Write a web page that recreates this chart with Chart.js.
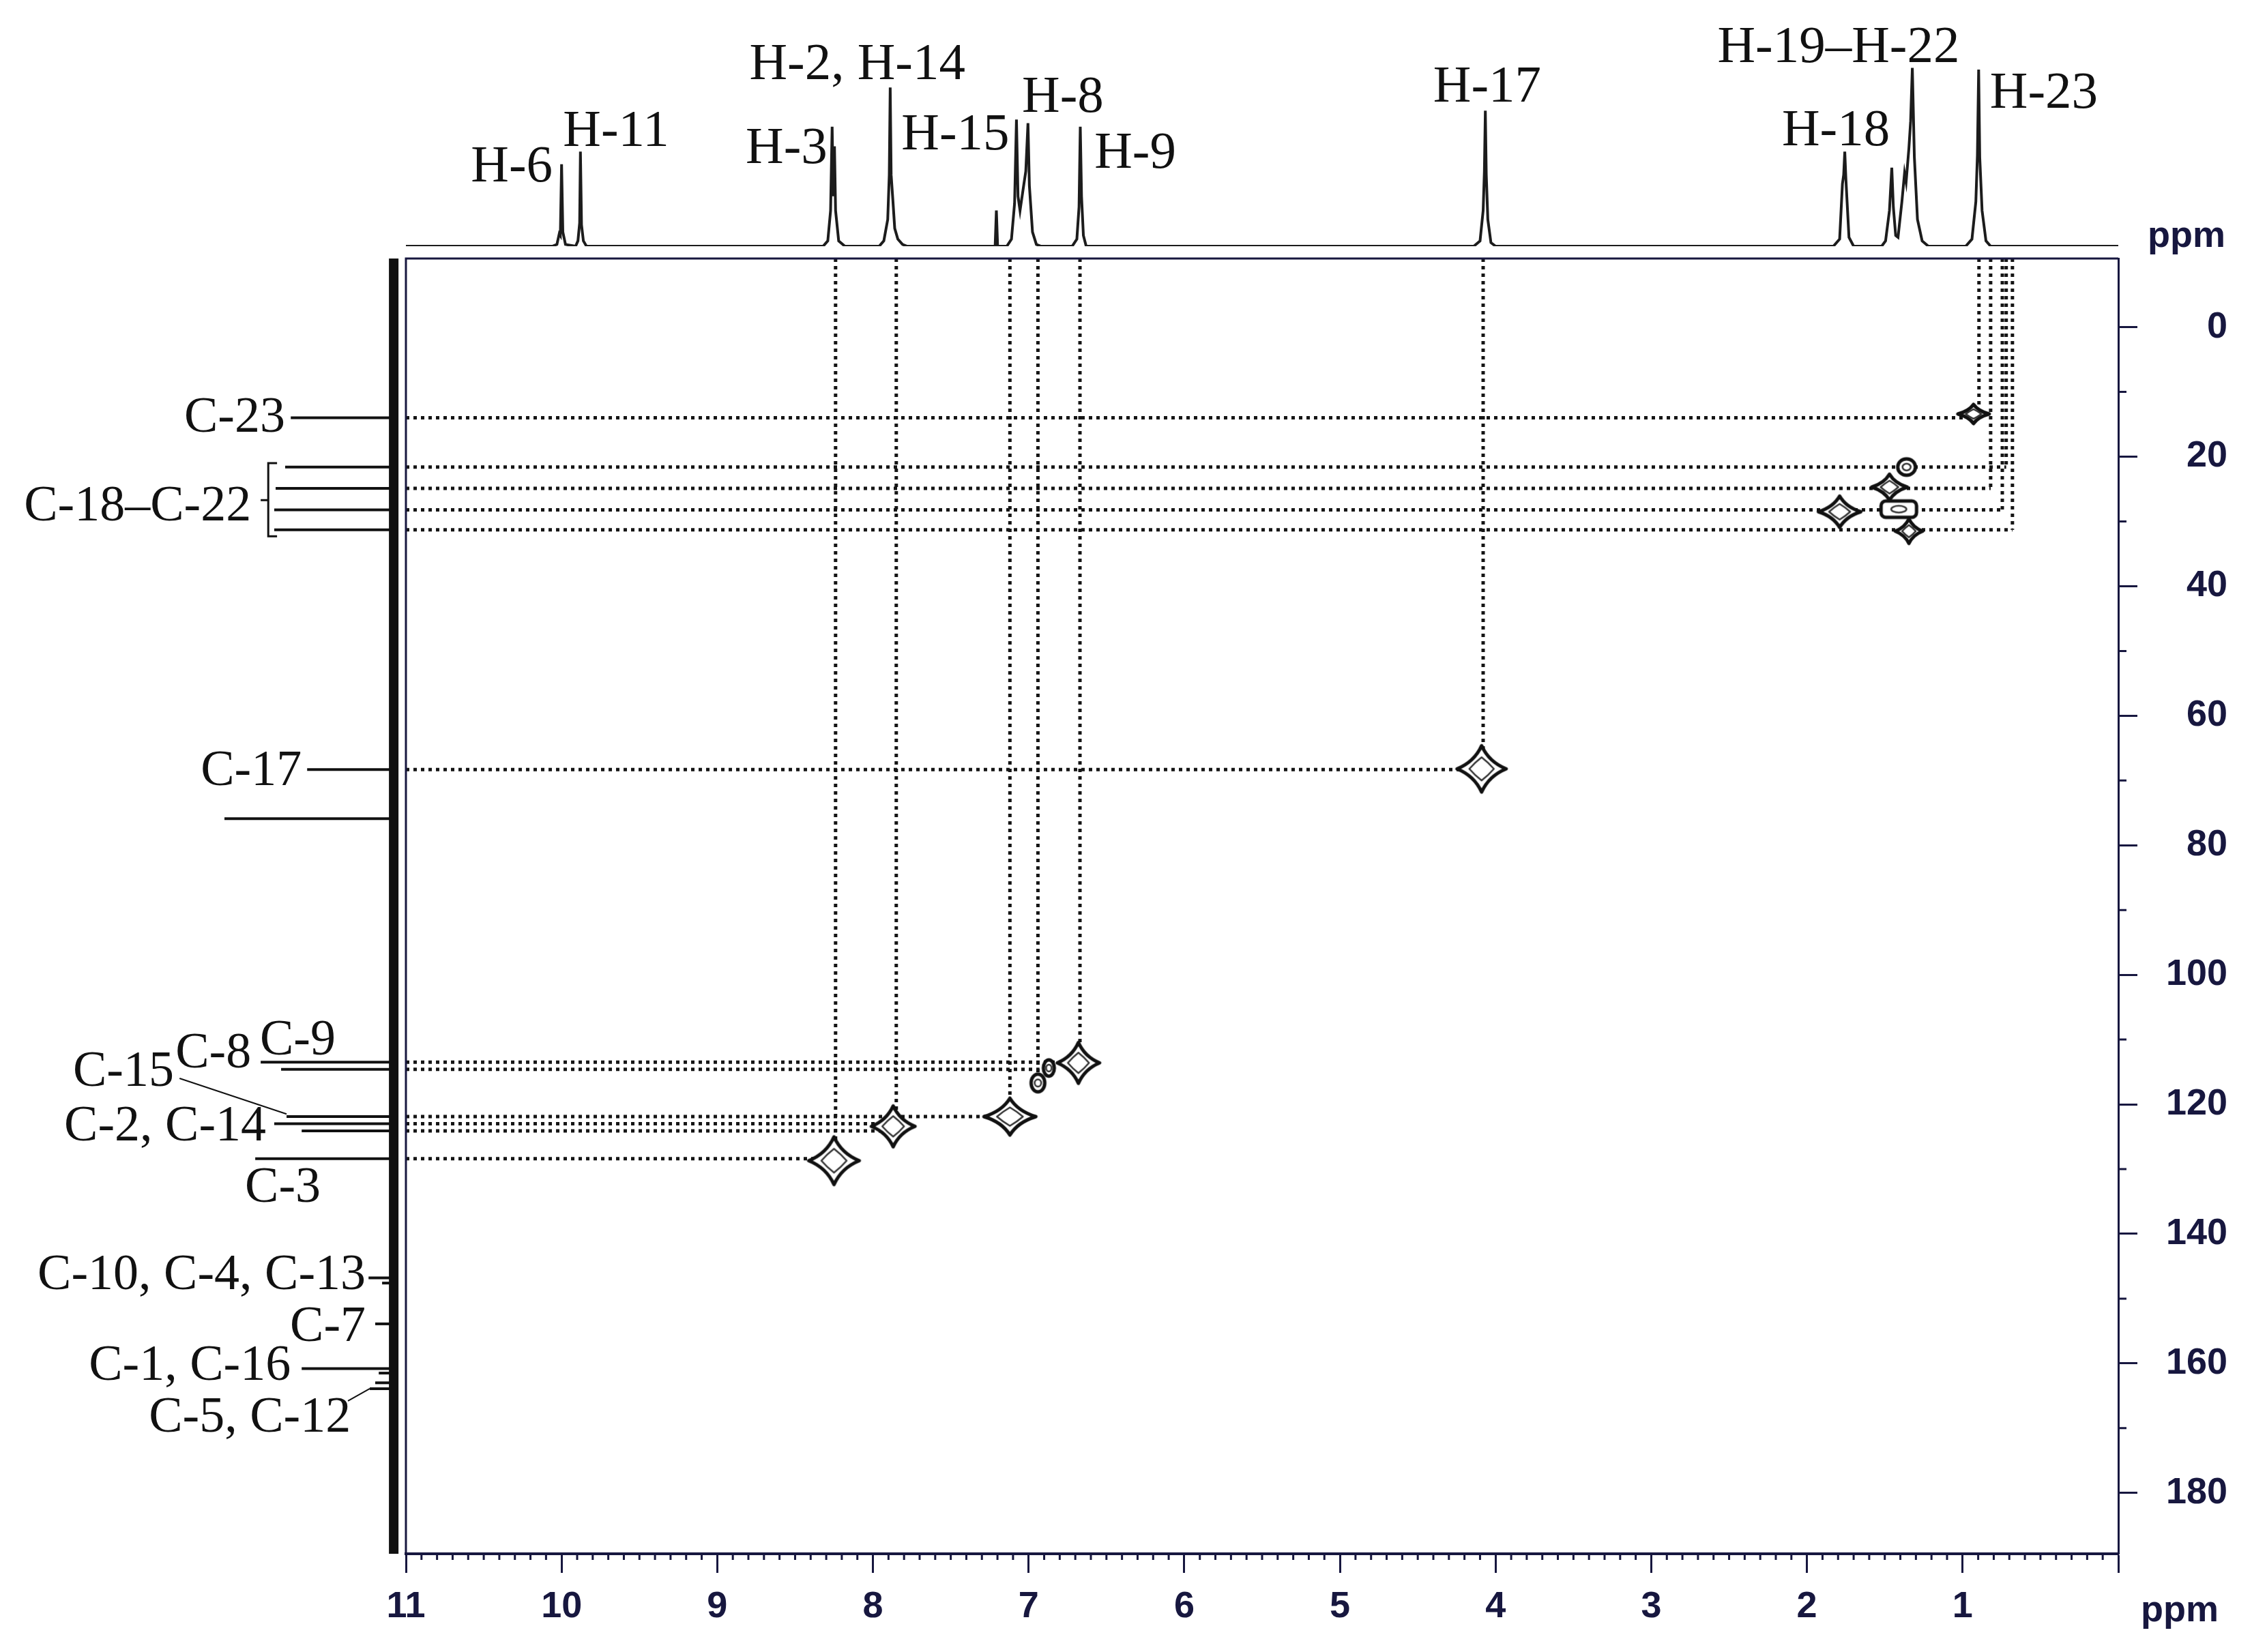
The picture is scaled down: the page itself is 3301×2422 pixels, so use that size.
<!DOCTYPE html>
<html>
<head>
<meta charset="utf-8">
<script src="https://cdn.jsdelivr.net/npm/chart.js@4.4.0/dist/chart.umd.min.js"></script>
<style>
body{margin:0;background:#fff;overflow:hidden}
#wrap{position:relative;width:3301px;height:2422px;background:#fff}
canvas{position:absolute;left:0;top:0}
</style>
</head>
<body>
<div id="wrap">
<canvas id="main" width="3301" height="2422"></canvas>
<canvas id="proton" width="3301" height="379"></canvas>
<canvas id="carbon" width="600" height="2422"></canvas>
</div>
<script>

/* ---------------- DATA ---------------- */

// 1H trace on top: [ppm, relative intensity]
const protonTrace = [
[11.0,0],
[10.06,0],[10.03,1],[10.015,7],[10.008,6],[10.0,46],[9.992,8],[9.975,1],
[9.91,0],[9.895,3],[9.884,13],[9.879,53],[9.872,12],[9.86,3],[9.84,0],
[8.32,0],[8.29,3],[8.272,20],[8.262,67],[8.255,28],[8.247,56],[8.24,20],[8.22,3],[8.18,0],
[7.96,0],[7.93,3],[7.905,15],[7.895,40],[7.889,89],[7.883,40],[7.872,26],[7.86,10],[7.84,4],[7.81,1],[7.78,0],
[7.215,0],[7.207,20],[7.199,0],
[7.14,0],[7.11,4],[7.09,24],[7.078,71],[7.068,28],[7.055,20],[7.045,26],[7.035,32],[7.018,42],[7.004,69],[6.995,34],[6.975,8],[6.95,1],[6.92,0],
[6.72,0],[6.69,4],[6.676,22],[6.668,67],[6.66,28],[6.648,6],[6.63,0],
[4.14,0],[4.10,3],[4.08,20],[4.072,42],[4.066,76],[4.06,40],[4.05,15],[4.03,2],[4.0,0],
[1.83,0],[1.79,4],[1.772,35],[1.764,40],[1.757,53],[1.75,38],[1.744,28],[1.73,5],[1.70,0],
[1.52,0],[1.495,3],[1.47,20],[1.455,44],[1.445,22],[1.43,6],[1.415,5],[1.39,25],[1.373,41],[1.363,36],[1.345,55],[1.334,70],[1.323,100],[1.31,50],[1.29,15],[1.26,3],[1.22,0],
[0.98,0],[0.94,4],[0.915,25],[0.905,51],[0.897,99],[0.89,50],[0.875,20],[0.85,3],[0.82,0],
[0,0]
]

const protonLabels = ["H-6","H-11","H-3","H-2, H-14","H-15","H-8","H-9","H-17","H-18","H-19–H-22","H-23"]

// 13C stick spectrum on the left
const carbonShift  = [13.98,21.6,24.9,28.2,31.3,68.3,75.9,113.5,114.6,121.9,123.0,124.1,128.4,146.8,147.6,153.9,160.8,161.5,163.0,163.9]
const carbonHeight = [58.5,61.7,67.1,67.9,67.9,49.2,96.2,75.6,64.0,60.9,67.9,52.3,78.7,14.3,6.6,10.5,52.3,8.5,10.5,13.6]

const carbonLabels = ["C-23","C-18–C-22","C-17","C-9","C-8","C-15","C-2, C-14","C-3","C-10, C-4, C-13","C-7","C-1, C-16","C-5, C-12"]

// HSQC cross peaks (1H ppm, 13C ppm)
const crossH = [8.25,7.87,7.12,6.94,6.87,6.68,4.09,0.93,1.36,1.47,1.79,1.41,1.345]
const crossC = [128.7,123.4,121.9,116.7,114.4,113.6,68.2,13.4,21.6,24.7,28.5,28.1,31.5]

// dotted correlation guides
const hGuideC   = [13.98,21.6,24.9,28.2,31.3,68.3,113.5,114.6,121.9,123.0,124.1,128.4]
const hGuideEnd = [0.91,0.72,0.82,0.745,0.68,4.08,6.67,6.93,7.12,7.87,7.87,8.25]
const vGuideH   = [8.24,7.85,7.12,6.94,6.67,4.08,0.895,0.82,0.745,0.72,0.68]
const vGuideEnd = [128.4,123.5,121.9,116.7,113.5,68.3,13.6,24.9,28.2,21.6,31.3]

const xTicks = [0,1,2,3,4,5,6,7,8,9,10,11]
const yTicks = [0,20,40,60,80,100,120,140,160,180]

/* ---------------- LAYOUT / STYLE ---------------- */

const NAVY = "#17173f"
const INK = "#111"
const SANS = '"Liberation Sans", Arial, sans-serif'
const SERIF = '"Liberation Serif", "Times New Roman", serif'

const FRAME = {left:595, right:3105, top:379, bottom:2278}
const PAGE_W = 3301, PAGE_H = 2422
const X_MIN = 0, X_MAX = 11
const Y_MIN = -10.6, Y_MAX = 189.4

// label anchors (ppm, intensity) for the 1H labels, centred text
const protonLabelAt = [[10.32,36.3],[9.65,56.2],[8.555,46.7],[8.10,93.7],[7.47,54.3],[6.78,75.3],[6.315,44.0],[4.054,81.1],[1.814,56.6],[1.797,103.3],[0.478,77.6]]
// label anchors (intensity, ppm) for the 13C labels, right aligned
const carbonLabelAt = [[61.7,16.2],[81.0,29.8],[52.3,70.7],[33.0,112.3],[81.0,114.3],[124.9,117.1],[72.5,125.6],[41.5,135.1],[15.9,148.5],[15.9,156.5],[58.5,162.5],[24.4,170.5]]
// contour size / shape of each cross peak
const blobStyle = [[74,70,"star"],[64,60,"star"],[76,54,"star"],[24,30,"ring"],[20,28,"ring"],[62,60,"star"],[72,68,"star"],[46,28,"star"],[30,28,"ring"],[52,38,"star"],[62,46,"star"],[56,28,"rect"],[40,36,"star"]]

/* ---------------- CONTOUR MARKER ---------------- */

function starPath(g, cx, cy, rx, ry, k){
g.moveTo(cx-rx, cy)
g.quadraticCurveTo(cx-rx*k, cy-ry*k, cx, cy-ry)
g.quadraticCurveTo(cx+rx*k, cy-ry*k, cx+rx, cy)
g.quadraticCurveTo(cx+rx*k, cy+ry*k, cx, cy+ry)
g.quadraticCurveTo(cx-rx*k, cy+ry*k, cx-rx, cy)
g.closePath()
}

function makeBlob(w, h, kind){
const c = document.createElement("canvas")
c.width = w + 10
c.height = h + 10
const g = c.getContext("2d")
const cx = c.width/2, cy = c.height/2, rx = w/2, ry = h/2
g.strokeStyle = INK
g.fillStyle = "#fff"
g.lineJoin = "round"
g.lineWidth = 5
g.beginPath()
if(kind === "ring"){
g.ellipse(cx, cy, rx-2, ry-2, 0, 0, Math.PI*2)
}else if(kind === "rect"){
g.roundRect(cx-rx+2, cy-ry+2, w-4, h-4, ry*0.5)
}else{
starPath(g, cx, cy, rx, ry, 0.3)
}
g.fill()
g.stroke()
g.lineWidth = 2.5
g.strokeStyle = "#333"
g.beginPath()
if(kind === "star"){
starPath(g, cx, cy, rx*0.5, ry*0.5, 0.55)
}else{
g.ellipse(cx, cy, Math.max(rx*0.4,3), Math.max(ry*0.35,3), 0, 0, Math.PI*2)
}
g.stroke()
return c
}

/* ---------------- MAIN 2D PLOT ---------------- */

const guideStyle = {
showLine:true,
borderColor:"#151515",
borderWidth:5,
borderDash:[5,6],
borderCapStyle:"butt",
pointRadius:0
}

const hGuides = hGuideC.map((c,i)=>({...guideStyle, data:[{x:X_MAX,y:c},{x:hGuideEnd[i],y:c}]}))
const vGuides = vGuideH.map((h,i)=>({...guideStyle, data:[{x:h,y:Y_MIN},{x:h,y:vGuideEnd[i]}]}))

const crossDataset = {
data: crossH.map((h,i)=>({x:h, y:crossC[i]})),
pointStyle: blobStyle.map(b=>makeBlob(b[0], b[1], b[2])),
pointRadius: 20,
pointHoverRadius: 20,
showLine:false
}

const framePlugin = {
id:"frame",
afterDraw(chart){
const ctx = chart.ctx
const a = chart.chartArea
const xs = chart.scales.x, ys = chart.scales.y
ctx.save()
ctx.strokeStyle = NAVY
ctx.lineWidth = 3
ctx.beginPath()
ctx.moveTo(a.left, a.bottom)
ctx.lineTo(a.left, a.top)
ctx.lineTo(a.right, a.top)
ctx.stroke()
// minor ticks
ctx.lineWidth = 3
ctx.beginPath()
for(let i=1;i<110;i++){
if(i%10===0) continue
const px = xs.getPixelForValue(i/10)
ctx.moveTo(px, a.bottom)
ctx.lineTo(px, a.bottom+9)
}
for(let v=10; v<190; v+=20){
const py = ys.getPixelForValue(v)
ctx.moveTo(a.right, py)
ctx.lineTo(a.right+12, py)
}
ctx.stroke()
// axis unit labels
ctx.fillStyle = NAVY
ctx.font = "bold 54px " + SANS
ctx.textAlign = "left"
ctx.textBaseline = "alphabetic"
ctx.fillText("ppm", a.right+43, a.top-17)
ctx.fillText("ppm", a.right+33, a.bottom+99)
ctx.restore()
}
}

new Chart(document.getElementById("main"),{
type:"scatter",
data:{datasets:[crossDataset, ...hGuides, ...vGuides]},
options:{
responsive:false,
animation:false,
devicePixelRatio:1,
layout:{padding:{left:FRAME.left, top:FRAME.top, right:36, bottom:34}},
plugins:{legend:{display:false}, tooltip:{enabled:false}},
scales:{
x:{
type:"linear", position:"bottom", min:X_MIN, max:X_MAX, reverse:true,
afterFit(s){ s.height = PAGE_H - FRAME.bottom - 34 },
afterBuildTicks(s){ s.ticks = xTicks.map(v=>({value:v})) },
grid:{drawOnChartArea:false, tickLength:28, tickWidth:3, tickColor:NAVY},
border:{color:NAVY, width:4},
ticks:{font:{family:SANS, size:54, weight:"bold"}, color:NAVY, padding:18, maxRotation:0, autoSkip:false,
callback:v => v===0 ? "" : String(v)}
},
y:{
type:"linear", position:"right", min:Y_MIN, max:Y_MAX, reverse:true,
afterFit(s){ s.width = PAGE_W - FRAME.right - 36 },
afterBuildTicks(s){ s.ticks = yTicks.map(v=>({value:v})) },
grid:{drawOnChartArea:false, tickLength:28, tickWidth:3, tickColor:NAVY},
border:{color:NAVY, width:3},
ticks:{font:{family:SANS, size:54, weight:"bold"}, color:NAVY, padding:19, crossAlign:"far", autoSkip:false,
callback:v => String(v)}
}
}
},
plugins:[framePlugin]
})

/* ---------------- 1H TRACE (TOP) ---------------- */

const protonLabelPlugin = {
id:"protonLabels",
afterDatasetsDraw(chart){
const ctx = chart.ctx
const xs = chart.scales.x, ys = chart.scales.y
ctx.save()
ctx.fillStyle = INK
ctx.font = "77px " + SERIF
ctx.textAlign = "center"
ctx.textBaseline = "alphabetic"
protonLabels.forEach((t,i)=>{
const p = protonLabelAt[i]
ctx.fillText(t, xs.getPixelForValue(p[0]), ys.getPixelForValue(p[1]))
})
ctx.restore()
}
}

new Chart(document.getElementById("proton"),{
type:"scatter",
data:{datasets:[{
data: protonTrace.map(p=>({x:p[0], y:p[1]})),
showLine:true,
borderColor:"#1c1c1c",
borderWidth:4,
pointRadius:0,
tension:0
}]},
options:{
responsive:false,
animation:false,
devicePixelRatio:1,
layout:{padding:{left:FRAME.left, right:PAGE_W-FRAME.right, top:21, bottom:18}},
plugins:{legend:{display:false}, tooltip:{enabled:false}},
scales:{
x:{display:false, type:"linear", min:X_MIN, max:X_MAX, reverse:true},
y:{display:false, type:"linear", min:0, max:130}
}
},
plugins:[protonLabelPlugin]
})

/* ---------------- 13C TRACE (LEFT) ---------------- */

const carbonLabelPlugin = {
id:"carbonLabels",
afterDatasetsDraw(chart){
const ctx = chart.ctx
const xs = chart.scales.x, ys = chart.scales.y
const P = (x,y)=>[xs.getPixelForValue(x), ys.getPixelForValue(y)]
ctx.save()
ctx.strokeStyle = INK
// bracket for C-18–C-22
ctx.lineWidth = 3
ctx.beginPath()
let a = P(66.3,21.0), b = P(71.3,21.0), c = P(71.3,32.3), d = P(66.3,32.3)
ctx.moveTo(a[0],a[1]); ctx.lineTo(b[0],b[1]); ctx.lineTo(c[0],c[1]); ctx.lineTo(d[0],d[1])
a = P(71.3,26.7); b = P(75.6,26.7)
ctx.moveTo(a[0],a[1]); ctx.lineTo(b[0],b[1])
ctx.stroke()
// leaders
ctx.lineWidth = 2
ctx.beginPath()
a = P(121.7,116.0); b = P(60.9,121.5)
ctx.moveTo(a[0],a[1]); ctx.lineTo(b[0],b[1])
a = P(26.0,165.8); b = P(13.6,163.9)
ctx.moveTo(a[0],a[1]); ctx.lineTo(b[0],b[1])
ctx.stroke()
ctx.fillStyle = INK
ctx.font = "74px " + SERIF
ctx.textAlign = "right"
ctx.textBaseline = "alphabetic"
carbonLabels.forEach((t,i)=>{
const p = carbonLabelAt[i]
ctx.fillText(t, xs.getPixelForValue(p[0]), ys.getPixelForValue(p[1]))
})
ctx.restore()
}
}

const carbonDatasets = [
{data:[{x:0,y:Y_MIN},{x:0,y:Y_MAX}], showLine:true, borderColor:INK, borderWidth:14, pointRadius:0},
...carbonShift.map((c,i)=>({data:[{x:0,y:c},{x:carbonHeight[i],y:c}], showLine:true, borderColor:INK, borderWidth:4, pointRadius:0}))
]

new Chart(document.getElementById("carbon"),{
type:"scatter",
data:{datasets:carbonDatasets},
options:{
responsive:false,
animation:false,
devicePixelRatio:1,
layout:{padding:{left:20, right:10, top:FRAME.top, bottom:PAGE_H-FRAME.bottom}},
plugins:{legend:{display:false}, tooltip:{enabled:false}},
scales:{
x:{display:false, type:"linear", min:-5, max:216, reverse:true},
y:{display:false, type:"linear", min:Y_MIN, max:Y_MAX, reverse:true}
}
},
plugins:[carbonLabelPlugin]
})

</script>
</body>
</html>
